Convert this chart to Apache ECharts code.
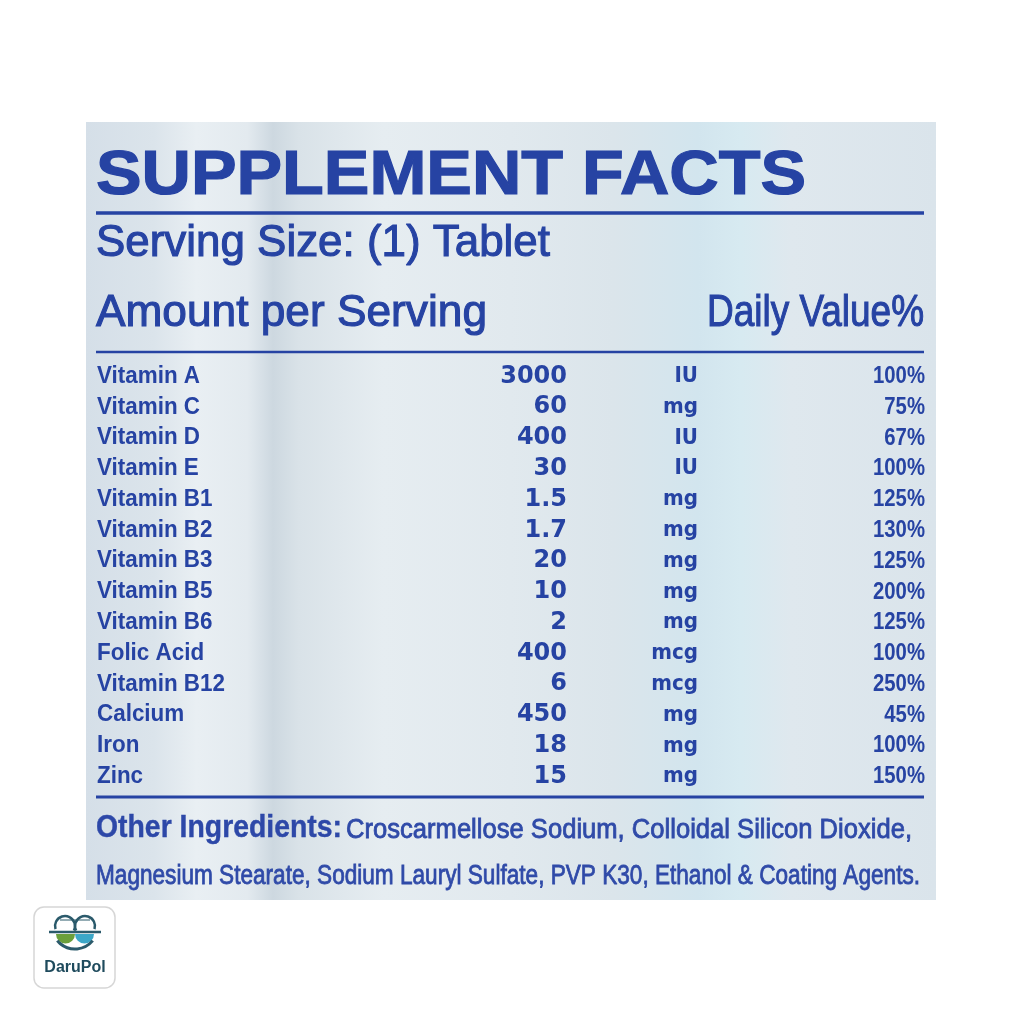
<!DOCTYPE html>
<html>
<head>
<meta charset="utf-8">
<script src="https://cdn.jsdelivr.net/npm/echarts@6/dist/echarts.min.js"></script>
<style>
html,body{margin:0;padding:0;background:#fff;}
#chart{width:1024px;height:1024px;}
</style>
</head>
<body>
<div id="chart"></div>
<script>
// ---- data ----
const nutrients = ['Vitamin A','Vitamin C','Vitamin D','Vitamin E','Vitamin B1','Vitamin B2','Vitamin B3','Vitamin B5','Vitamin B6','Folic Acid','Vitamin B12','Calcium','Iron','Zinc'];
const amounts = ['3000','60','400','30','1.5','1.7','20','10','2','400','6','450','18','15'];
const units = ['IU','mg','IU','IU','mg','mg','mg','mg','mg','mcg','mcg','mg','mg','mg'];
const dailyValues = [100,75,67,100,125,130,125,200,125,100,250,45,100,150];
const titleText = 'SUPPLEMENT FACTS';
const servingText = 'Serving Size: (1) Tablet';
const amountHeader = 'Amount per Serving';
const dvHeader = 'Daily Value%';
const otherLabel = 'Other Ingredients:';
const otherLine1 = 'Croscarmellose Sodium, Colloidal Silicon Dioxide,';
const otherLine2 = 'Magnesium Stearate, Sodium Lauryl Sulfate, PVP K30, Ethanol & Coating Agents.';
const brandText = 'DaruPol';

// ---- layout / style ----
const INK = '#2643a3';
const SANS = '"Liberation Sans", Arial, sans-serif';
const DEJA = '"DejaVu Sans", sans-serif';
const COL = { name: 97, amount: 567, unit: 698, dv: 925 };

const mctx = document.createElement('canvas').getContext('2d');
function fit(text, font, target) {
  mctx.font = font;
  const w = mctx.measureText(text).width;
  return w > 0 ? target / w : 1;
}
function mid(baseline, size) { return baseline - 0.36 * size; }

const fName = 'bold 23px ' + SANS;
const fAmt = 'bold 24px ' + DEJA;
const fUnit = 'bold 22px ' + DEJA;
const fDv = 'bold 24px ' + SANS;
const sxName = fit('Vitamin A', fName, 103);
const sxDv = fit('100%', fDv, 52);
const sxUnit = fit('mg', fUnit, 35);

function colSeries(name, texts, x, font, align, sx, sw) {
  return {
    type: 'custom',
    name: name,
    coordinateSystem: 'cartesian2d',
    data: texts.map((t, i) => [0, i, String(t)]),
    encode: { x: 0, y: 1 },
    renderItem: function (params, api) {
      const row = api.value(1);
      const y = api.coord([0, row])[1];
      const txt = texts[row];
      return {
        type: 'text',
        x: x, y: y,
        scaleX: sx,
        style: { text: String(txt), font: font, fill: INK, stroke: sw ? INK : null, lineWidth: sw || 0, align: align, verticalAlign: 'middle' }
      };
    },
    silent: true
  };
}

const fTitle = 'bold 63px ' + SANS;
const fServ = '45px ' + SANS;
const fOther = 'bold 32px ' + SANS;
const fOtherTxt = '27px ' + SANS;

const chart = echarts.init(document.getElementById('chart'), null, { renderer: 'canvas' });

const bg = {
  type: 'linear', x: 0, y: 0, x2: 1, y2: 0,
  colorStops: [
    { offset: 0, color: '#d5dfe8' },
    { offset: 0.08, color: '#dbe4eb' },
    { offset: 0.13, color: '#e9eff3' },
    { offset: 0.19, color: '#e3eaef' },
    { offset: 0.22, color: '#cdd8e0' },
    { offset: 0.25, color: '#d9e2e8' },
    { offset: 0.35, color: '#e6edf1' },
    { offset: 0.5, color: '#e1e9ee' },
    { offset: 0.62, color: '#dbe5eb' },
    { offset: 0.72, color: '#d2e5ee' },
    { offset: 0.77, color: '#d7eaf1' },
    { offset: 0.83, color: '#dfe8ee' },
    { offset: 1, color: '#dae4eb' }
  ]
};

function txt(text, x, y, font, sx, align, fill, sw) {
  const c = fill || INK;
  return { type: 'text', x: x, y: y, scaleX: sx, z: 5,
    style: { text: text, font: font, fill: c, stroke: sw ? c : null, lineWidth: sw || 0, align: align || 'left', verticalAlign: 'middle' } };
}
function hline(y, w) {
  return { type: 'line', z: 5, shape: { x1: 96, y1: y, x2: 924, y2: y }, style: { stroke: INK, lineWidth: w } };
}

const TEAL = '#2b5a6b';
const option = {
  backgroundColor: '#ffffff',
  animation: false,
  grid: { left: 0, right: 0, top: 361, height: 431, containLabel: false },
  xAxis: { type: 'value', min: 0, max: 1024, show: false },
  yAxis: { type: 'category', data: nutrients, inverse: true, show: false },
  graphic: [
    { type: 'rect', z: 0, shape: { x: 86, y: 122, width: 850, height: 778 }, style: { fill: bg } },
    txt(titleText, 96, mid(199, 63), fTitle, fit(titleText, fTitle, 710), 'left', INK, 1.2),
    hline(213, 3.5),
    txt(servingText, 96, mid(260, 45), fServ, fit(servingText, fServ, 454), 'left', INK, 1.1),
    txt(amountHeader, 96, mid(330, 45), fServ, fit(amountHeader, fServ, 391), 'left', INK, 1.1),
    txt(dvHeader, 924, mid(330, 45), fServ, fit(dvHeader, fServ, 217), 'right', INK, 1.1),
    hline(352, 2.5),
    hline(797, 3),
    txt(otherLabel, 96, mid(840, 32), fOther, fit(otherLabel, fOther, 246), 'left', '#2d48a8', 0.4),
    txt(otherLine1, 346, mid(840, 27), fOtherTxt, fit(otherLine1, fOtherTxt, 566), 'left', '#2f4aa8', 0.8),
    txt(otherLine2, 96, mid(886, 27), fOtherTxt, fit(otherLine2, fOtherTxt, 824), 'left', '#2f4aa8', 0.8),
    // logo
    { type: 'rect', z: 5, shape: { x: 34, y: 907, width: 81, height: 81, r: 10 }, style: { fill: '#ffffff', stroke: '#d6d6d6', lineWidth: 1.5 } },
    { type: 'arc', z: 6, shape: { cx: 65, cy: 926, r: 10, startAngle: Math.PI * 0.9, endAngle: Math.PI * 2.15 }, style: { stroke: TEAL, lineWidth: 2.5, fill: null } },
    { type: 'arc', z: 6, shape: { cx: 85, cy: 926, r: 10, startAngle: Math.PI * 0.85, endAngle: Math.PI * 2.1 }, style: { stroke: TEAL, lineWidth: 2.5, fill: null } },
    { type: 'line', z: 6, shape: { x1: 60, y1: 920, x2: 90, y2: 920 }, style: { stroke: TEAL, lineWidth: 1 } },
    { type: 'line', z: 6, shape: { x1: 49, y1: 932, x2: 101, y2: 932 }, style: { stroke: TEAL, lineWidth: 2.5 } },
    { type: 'sector', z: 6, shape: { cx: 65.5, cy: 934, r0: 0, r: 9.5, startAngle: 0, endAngle: Math.PI, clockwise: true }, style: { fill: '#6b9f3b' } },
    { type: 'sector', z: 6, shape: { cx: 84.5, cy: 934, r0: 0, r: 9.5, startAngle: 0, endAngle: Math.PI, clockwise: true }, style: { fill: '#3ca7c8' } },
    { type: 'arc', z: 6, shape: { cx: 75, cy: 926, r: 23, startAngle: Math.PI * 0.22, endAngle: Math.PI * 0.78 }, style: { stroke: TEAL, lineWidth: 3, fill: null } },
    { type: 'text', z: 6, x: 75, y: 968, style: { text: brandText, font: 'bold 16px ' + SANS, fill: '#1f4b5d', align: 'center', verticalAlign: 'middle' } }
  ],
  series: [
    colSeries('Nutrient', nutrients, COL.name, fName, 'left', sxName, 0),
    colSeries('Amount', amounts, COL.amount, fAmt, 'right', 1, 0),
    colSeries('Unit', units, COL.unit, fUnit, 'right', sxUnit, 0),
    colSeries('Daily Value %', dailyValues.map(v => v + '%'), COL.dv, fDv, 'right', sxDv, 0)
  ]
};
chart.setOption(option);
</script>
</body>
</html>
